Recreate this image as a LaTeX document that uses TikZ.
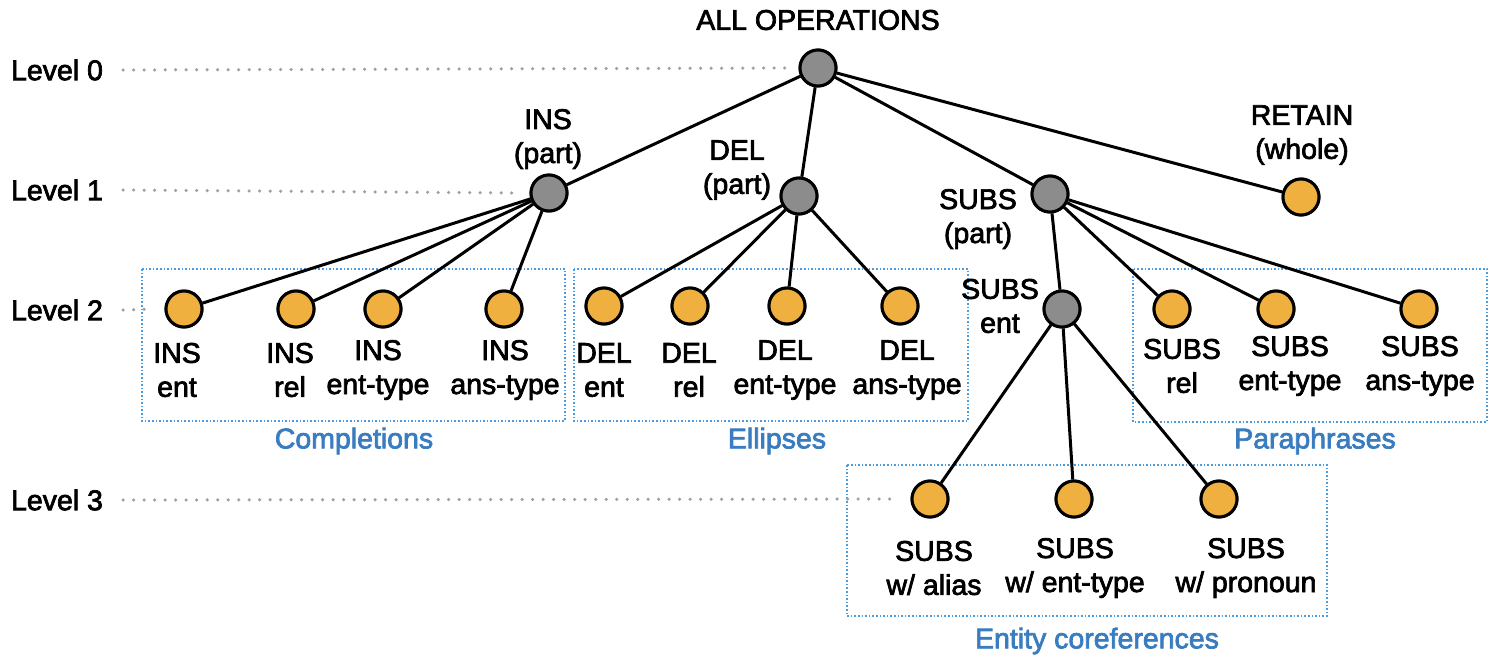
\documentclass[tikz,border=0pt]{standalone}
\usepackage{fontspec}
\setmainfont{Liberation Sans}
\newfontface\medfont[FakeBold=2.5]{Liberation Sans}
\definecolor{nodeorange}{HTML}{F0B040}
\definecolor{nodegray}{HTML}{8C8C8C}
\definecolor{labelblue}{HTML}{3A7CC0}
\definecolor{boxblue}{HTML}{4A9BE0}
\definecolor{dotgray}{HTML}{A0A0A0}
\begin{document}
\begin{tikzpicture}[x=1pt,y=-1pt,
  every node/.style={font=\fontsize{28.5}{34}\medfont},
  leaf/.style={circle,draw=black,line width=3pt,fill=nodeorange,minimum size=36pt,inner sep=0pt},
  inner/.style={circle,draw=black,line width=3pt,fill=nodegray,minimum size=36pt,inner sep=0pt},
  txt/.style={align=center,inner sep=0pt},
  edge/.style={line width=3pt},
  leveldots/.style={draw=dotgray,line width=3.5pt,line cap=round,dash pattern=on 0pt off 10.5pt},
  groupbox/.style={draw=boxblue,line width=1.6pt,dash pattern=on 1.6pt off 2pt},
  grouplabel/.style={text=labelblue,inner sep=0pt}
]
\useasboundingbox (0,0) rectangle (1489,657);

% group boxes
\draw[groupbox] (142,269) rectangle (565,421);
\draw[groupbox] (574,269) rectangle (968,421);
\draw[groupbox] (1133,269) rectangle (1487,422);
\draw[groupbox] (847,465) rectangle (1327,616);
\node[grouplabel] (gcomp) at (354,441) {Completions};
\node[grouplabel] (gell) at (777,441) {Ellipses};
\node[grouplabel] (gpar) at (1315,441) {Paraphrases};
\node[grouplabel] (gent) at (1097,641) {Entity coreferences};

% level labels
\node[txt] (l0) at (57,70) {Level 0};
\node[txt] (l1) at (57,190) {Level 1};
\node[txt] (l2) at (57,310) {Level 2};
\node[txt] (l3) at (57,500) {Level 3};

% nodes
\node[inner] (root) at (818,68) {};
\node[inner] (ins) at (549,193) {};
\node[inner] (del) at (799,196) {};
\node[inner] (subs) at (1050,194) {};
\node[leaf] (ret) at (1301,197) {};

\node[leaf] (insent) at (184,309) {};
\node[leaf] (insrel) at (296,309) {};
\node[leaf] (insety) at (383,309) {};
\node[leaf] (insans) at (504,309) {};

\node[leaf] (delent) at (604,306) {};
\node[leaf] (delrel) at (690,306) {};
\node[leaf] (delety) at (787,306) {};
\node[leaf] (delans) at (900,306) {};

\node[inner] (subsent) at (1062,309) {};
\node[leaf] (subsrel) at (1172,309) {};
\node[leaf] (subsety) at (1276,309) {};
\node[leaf] (subsans) at (1419,309) {};

\node[leaf] (alias) at (930,499) {};
\node[leaf] (etype) at (1074,499) {};
\node[leaf] (pron) at (1219,499) {};

% level dotted lines
\draw[leveldots] (l0.east) ++(20,0) coordinate (d0) -- ([xshift=-12pt]root.west);
\draw[leveldots] (l1.east) ++(20,0) coordinate (d1) -- ([xshift=-12pt]ins.west);
\draw[leveldots] (l2.east) ++(20,0) coordinate (d2) -- ([xshift=-12pt]insent.west);
\draw[leveldots] (l3.east) ++(20,0) coordinate (d3) -- ([xshift=-12pt]alias.west);

% edges
\draw[edge] (root) -- (ins);
\draw[edge] (root) -- (del);
\draw[edge] (root) -- (subs);
\draw[edge] (root) -- (ret);
\foreach \t in {insent,insrel,insety,insans} \draw[edge] (ins) -- (\t);
\foreach \t in {delent,delrel,delety,delans} \draw[edge] (del) -- (\t);
\foreach \t in {subsent,subsrel,subsety,subsans} \draw[edge] (subs) -- (\t);
\foreach \t in {alias,etype,pron} \draw[edge] (subsent) -- (\t);

% redraw nodes on top
\foreach \n in {root,ins,del,subs,subsent} \node[inner] at (\n) {};
\foreach \n in {ret,insent,insrel,insety,insans,delent,delrel,delety,delans,subsrel,subsety,subsans,alias,etype,pron} \node[leaf] at (\n) {};

% text labels
\node[txt] (troot) at (818,20) {ALL OPERATIONS};
\node[txt] (tins) at (548,139) {INS\\(part)};
\node[txt] (tdel) at (737,170) {DEL\\(part)};
\node[txt] (tsubs) at (978,219) {SUBS\\(part)};
\node[txt] (tret) at (1302,135) {RETAIN\\(whole)};
\node[txt] (tsubsent) at (1000,306) {SUBS\\ent};

\node[txt] (tinsent) at (177,370) {INS\\ent};
\node[txt] (tinsrel) at (290,370) {INS\\rel};
\node[txt] (tinsety) at (378,370) {INS\\ent-type};
\node[txt] (tinsans) at (505,370) {INS\\ans-type};

\node[txt] (tdelent) at (604,370) {DEL\\ent};
\node[txt] (tdelrel) at (689,370) {DEL\\rel};
\node[txt] (tdelety) at (785,370) {DEL\\ent-type};
\node[txt] (tdelans) at (907,370) {DEL\\ans-type};

\node[txt] (tsubsrel) at (1182,366) {SUBS\\rel};
\node[txt] (tsubsety) at (1290,366) {SUBS\\ent-type};
\node[txt] (tsubsans) at (1420,366) {SUBS\\ans-type};

\node[txt] (talias) at (934,568) {SUBS\\w/ alias};
\node[txt] (tetype) at (1075,568) {SUBS\\w/ ent-type};
\node[txt] (tpron) at (1246,568) {SUBS\\w/ pronoun};
\end{tikzpicture}
\end{document}
